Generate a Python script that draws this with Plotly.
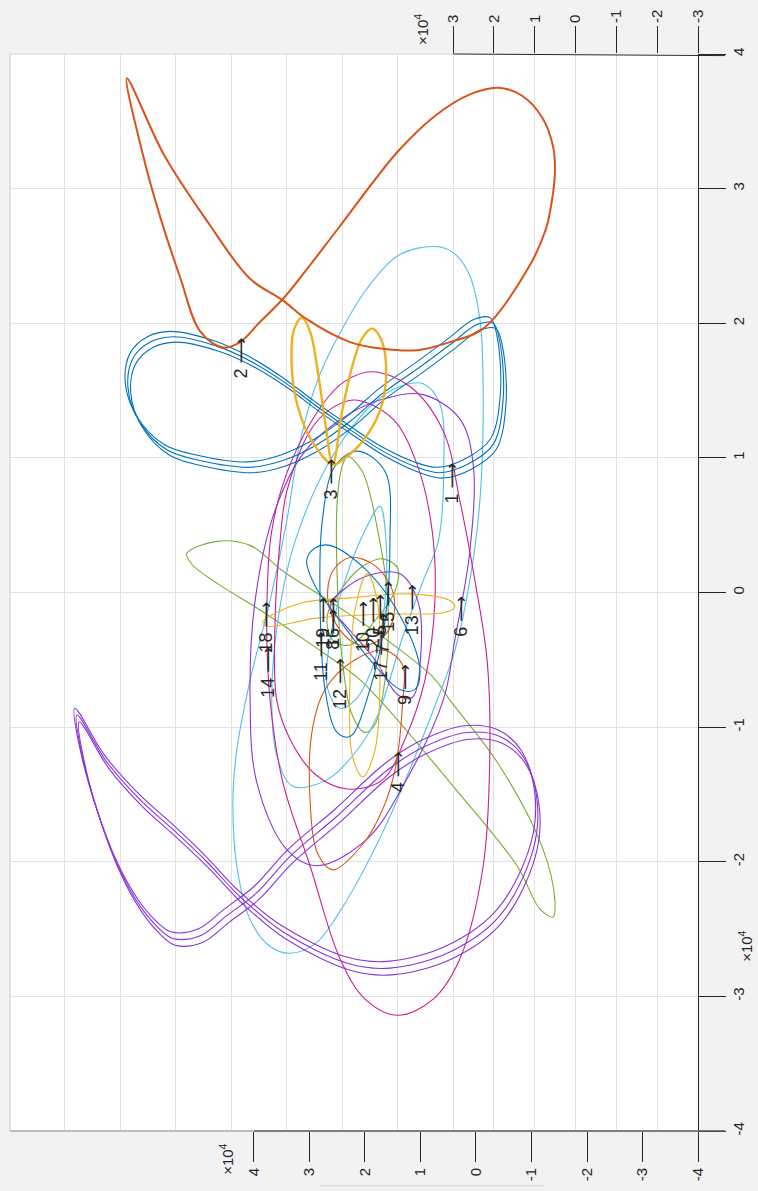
import plotly.graph_objects as go

# ---- orbit paths (units of 1e4); u = horizontal axis, v = vertical axis ----
orange_u = [6.29, 6.00, 5.69, 5.33, 4.97, 4.56, 4.25, 3.89, 3.48, 3.05, 2.49, 1.42, 0.74, 0.11, -0.40,
            -0.83, -1.19, -1.39, -1.42, -1.33, -1.26, -0.97, -0.13, 0.47, 1.06, 1.68, 2.27, 3.05, 3.48,
            4.07, 4.83, 5.62, 6.29]
orange_v = [3.82, 3.25, 2.79, 2.34, 1.94, 1.82, 1.86, 2.01, 2.18, 2.40, 2.70, 3.27, 3.54, 3.70, 3.75,
            3.69, 3.53, 3.31, 3.10, 2.82, 2.70, 2.43, 1.96, 1.86, 1.80, 1.81, 1.86, 2.03, 2.17,
            2.33, 2.75, 3.25, 3.82]

# figure-eight orbit, three successive passes
blue_a_u = [5.46, 4.67, 4.07, 3.48, 2.86, 2.27, 1.68, 1.06, 0.65, 0.16, -0.31, -0.49, -0.43, -0.31, -0.02,
            0.47, 1.06, 1.68, 2.27, 2.86, 3.48, 4.07, 4.97, 5.57, 6.05, 6.27, 6.18, 5.87, 5.46]
blue_a_v = [1.90, 1.83, 1.72, 1.57, 1.38, 1.21, 1.05, 0.93, 0.89, 0.95, 1.10, 1.44, 1.86, 2.00, 1.99,
            1.84, 1.66, 1.48, 1.27, 1.10, 0.98, 0.93, 0.98, 1.06, 1.26, 1.52, 1.74, 1.86, 1.90]
blue_b_u = [5.51, 4.72, 4.12, 3.53, 2.91, 2.32, 1.73, 1.11, 0.70, 0.21, -0.26, -0.44, -0.38, -0.26, 0.03,
            0.52, 1.11, 1.73, 2.32, 2.91, 3.53, 4.12, 5.02, 5.62, 6.10, 6.32, 6.23, 5.92, 5.51]
blue_b_v = [1.94, 1.87, 1.76, 1.61, 1.42, 1.25, 1.09, 0.97, 0.93, 0.99, 1.14, 1.48, 1.90, 2.04, 2.03,
            1.88, 1.70, 1.52, 1.31, 1.14, 1.02, 0.97, 1.02, 1.10, 1.30, 1.56, 1.78, 1.90, 1.94]
blue_c_u = [5.41, 4.62, 4.02, 3.43, 2.81, 2.22, 1.63, 1.01, 0.60, 0.11, -0.36, -0.54, -0.48, -0.36, -0.07,
            0.42, 1.01, 1.63, 2.22, 2.81, 3.43, 4.02, 4.92, 5.52, 6.00, 6.22, 6.13, 5.82, 5.41]
blue_c_v = [1.86, 1.79, 1.68, 1.53, 1.34, 1.17, 1.01, 0.89, 0.85, 0.91, 1.06, 1.40, 1.82, 1.96, 1.95,
            1.80, 1.62, 1.44, 1.23, 1.06, 0.94, 0.89, 0.94, 1.02, 1.22, 1.48, 1.70, 1.82, 1.86]

yellow_u = [2.58, 2.72, 2.85, 2.99, 3.14, 3.28, 3.32, 3.21, 2.95, 2.58, 2.36, 2.05, 1.73, 1.62, 1.69,
            1.87, 2.05, 2.23, 2.41, 2.58]
yellow_v = [0.95, 1.27, 1.64, 1.94, 2.04, 1.95, 1.68, 1.38, 1.12, 0.95, 1.00, 1.12, 1.35, 1.60, 1.86,
            1.96, 1.89, 1.68, 1.35, 0.95]

cyan_outer_u = [0.74, 1.37, 1.96, 2.50, 2.86, 3.17, 3.41, 3.71, 4.07, 4.31, 4.38, 4.31, 4.07, 3.71, 3.35,
                2.90, 2.50, 1.68, 0.70, 0.38, 0.11, -0.07, -0.13, -0.07, 0.14, 0.43, 0.74]
cyan_outer_v = [2.57, 2.51, 2.26, 1.89, 1.57, 1.12, 0.53, -0.06, -0.65, -1.17, -1.54, -2.03, -2.43, -2.63,
                -2.68, -2.61, -2.40, -1.78, -0.80, -0.43, 0.09, 0.68, 1.42, 2.03, 2.38, 2.53, 2.57]

cyan_inner_u = [0.95, 0.65, 0.58, 0.68, 0.95, 1.32, 1.78, 2.14, 2.68, 3.30, 3.59, 3.68, 3.57, 3.26, 2.63,
                1.91, 1.37, 0.95]
cyan_inner_v = [1.55, 1.40, 0.95, 0.38, 0.09, -0.33, -0.92, -1.17, -1.39, -1.44, -1.21, -0.80, -0.21,
                0.38, 0.98, 1.38, 1.53, 1.55]

cyan_small_u = [1.73, 1.62, 1.64, 1.82, 2.18, 2.45, 2.67, 2.63, 2.36, 2.00, 1.73]
cyan_small_v = [0.64, 0.38, -0.06, -0.50, -0.80, -0.86, -0.72, -0.35, 0.09, 0.46, 0.64]

magenta_big_u = [1.87, 1.19, 0.59, 0.29, 0.02, -0.20, -0.25, -0.13, 0.29, 0.77, 1.41, 2.00, 2.45, 2.99,
                 3.48, 3.71, 3.77, 3.68, 3.35, 2.76, 2.36, 1.87]
magenta_big_v = [1.64, 1.53, 1.20, 0.68, 0.09, -0.50, -1.17, -2.03, -2.72, -3.02, -3.14, -3.02, -2.72,
                 -2.03, -1.41, -0.80, -0.21, 0.46, 0.95, 1.40, 1.57, 1.64]

magenta_mid_u = [2.18, 1.50, 1.06, 0.79, 0.74, 0.92, 1.28, 1.68, 2.32, 2.90, 3.35, 3.59, 3.62, 3.53, 3.41,
                 2.99, 2.63, 2.18]
magenta_mid_v = [1.43, 1.29, 0.95, 0.46, -0.06, -0.65, -1.09, -1.39, -1.46, -1.35, -1.09, -0.80, -0.21,
                 0.38, 0.75, 1.20, 1.36, 1.43]

# large purple loop, three successive passes
purple_a_u = [7.19, 6.65, 6.05, 5.46, 4.85, 4.25, 3.48, 2.27, 1.55, 0.47, -0.43, -1.03, -1.10, -0.85,
              -0.43, 0.16, 0.95, 1.60, 2.50, 3.35, 3.95, 4.49, 4.97, 5.46, 5.75, 6.05, 6.36, 6.65, 7.08, 7.19]
purple_a_v = [-0.91, -1.26, -1.54, -1.76, -2.00, -2.26, -2.52, -2.76, -2.79, -2.67, -2.40, -1.91, -1.54,
              -1.22, -1.07, -1.04, -1.15, -1.32, -1.66, -1.96, -2.23, -2.40, -2.55, -2.57, -2.48, -2.33,
              -2.11, -1.83, -1.24, -0.91]
purple_b_u = [7.23, 6.69, 6.09, 5.50, 4.89, 4.29, 3.52, 2.31, 1.59, 0.51, -0.39, -0.99, -1.06, -0.81,
              -0.39, 0.20, 0.99, 1.64, 2.54, 3.39, 3.99, 4.53, 5.01, 5.50, 5.79, 6.09, 6.40, 6.69, 7.12, 7.23]
purple_b_v = [-0.86, -1.21, -1.49, -1.71, -1.95, -2.21, -2.47, -2.71, -2.74, -2.62, -2.35, -1.86, -1.49,
              -1.17, -1.02, -0.99, -1.10, -1.27, -1.61, -1.91, -2.18, -2.35, -2.50, -2.52, -2.43, -2.28,
              -2.06, -1.78, -1.19, -0.86]
purple_c_u = [7.15, 6.61, 6.01, 5.42, 4.81, 4.21, 3.44, 2.23, 1.51, 0.43, -0.47, -1.07, -1.14, -0.89,
              -0.47, 0.12, 0.91, 1.56, 2.46, 3.31, 3.91, 4.45, 4.93, 5.42, 5.71, 6.01, 6.32, 6.61, 7.04, 7.15]
purple_c_v = [-0.96, -1.31, -1.59, -1.81, -2.05, -2.31, -2.57, -2.81, -2.84, -2.72, -2.45, -1.96, -1.59,
              -1.27, -1.12, -1.09, -1.20, -1.37, -1.71, -2.01, -2.28, -2.45, -2.60, -2.62, -2.53, -2.38,
              -2.16, -1.88, -1.29, -0.96]

purple_mid_u = [0.95, 0.29, 0.05, 0.11, 0.38, 0.59, 1.32, 1.96, 2.86, 3.41, 3.95, 4.07, 3.98, 3.62, 3.08,
                2.27, 1.55, 0.95]
purple_mid_v = [1.47, 1.29, 0.95, 0.31, -0.35, -0.80, -1.44, -1.83, -2.03, -1.91, -1.41, -0.80, -0.06,
                0.61, 1.05, 1.33, 1.45, 1.47]

purple_small_u = [1.37, 1.05, 0.99, 1.15, 1.41, 1.82, 2.36, 2.63, 2.36, 1.91, 1.37]
purple_small_v = [0.14, -0.06, -0.43, -0.78, -0.76, -0.50, -0.24, -0.10, 0.03, 0.13, 0.14]

green_long_u = [5.21, 4.67, 4.07, 3.48, 2.58, 1.68, 0.77, 0.47, -0.43, -1.21, -1.42, -1.39, -1.15, -0.74,
                0.47, 1.73, 2.14, 2.99, 3.89, 4.67, 5.12, 5.21]
green_long_v = [0.29, 0.38, 0.35, 0.16, -0.08, -0.33, -0.63, -0.80, -1.29, -1.91, -2.28, -2.41, -2.35,
                -2.03, -1.41, -0.80, -0.63, -0.38, -0.13, 0.07, 0.21, 0.29]

green_tall_u = [2.31, 2.05, 1.77, 1.59, 1.64, 1.82, 2.00, 2.23, 2.41, 2.50, 2.50, 2.41, 2.31]
green_tall_v = [1.01, 0.90, 0.46, -0.06, -0.65, -0.98, -1.04, -0.91, -0.50, 0.09, 0.68, 0.94, 1.01]

green_small_u = [1.68, 1.41, 1.46, 1.82, 2.27, 2.59, 2.68, 2.45, 2.09, 1.68]
green_small_v = [0.25, 0.18, 0.01, -0.21, -0.39, -0.35, -0.17, 0.01, 0.18, 0.25]

orange_small_u = [2.27, 1.82, 1.50, 1.50, 1.73, 2.09, 2.45, 2.67, 2.58, 2.27]
orange_small_v = [0.26, 0.20, 0.01, -0.21, -0.35, -0.39, -0.28, -0.06, 0.16, 0.26]

orange_tall_u = [1.32, 1.46, 1.68, 2.04, 2.58, 2.85, 2.99, 2.95, 2.72, 2.18, 1.64, 1.32, 1.32]
orange_tall_v = [-0.80, -1.32, -1.61, -1.87, -2.06, -1.94, -1.54, -1.02, -0.72, -0.50, -0.43, -0.54, -0.80]

yellow_flat_u = [3.84, 3.17, 2.27, 1.19, 0.47, 0.38, 0.59, 1.68, 2.86, 3.77, 3.84]
yellow_flat_v = [-0.22, -0.08, -0.04, -0.01, -0.06, -0.11, -0.15, -0.16, -0.19, -0.25, -0.22]

yellow_tall_u = [1.96, 1.78, 1.73, 1.82, 2.04, 2.23, 2.27, 2.18, 1.96]
yellow_tall_v = [0.14, -0.06, -0.65, -1.17, -1.37, -1.21, -0.65, -0.13, 0.14]

blue_small_u = [2.63, 1.96, 1.32, 1.01, 1.10, 1.37, 1.91, 2.45, 2.90, 3.05, 2.90, 2.63]
blue_small_v = [0.35, 0.16, -0.21, -0.58, -0.72, -0.72, -0.50, -0.21, 0.05, 0.24, 0.33, 0.35]

blue_tall_u = [2.13, 1.64, 1.55, 1.64, 1.91, 2.27, 2.50, 2.72, 2.81, 2.77, 2.54, 2.13]
blue_tall_v = [1.05, 0.90, 0.38, -0.21, -0.72, -1.07, -1.04, -0.72, -0.06, 0.53, 0.94, 1.05]

# ---- body labels ----
label_text = ["1", "2", "3", "4", "6", "9", "10", "11", "12", "13", "14", "15",
              "16", "17", "18", "19", "20", "5", "8", "7"]
label_u = [0.43, 4.23, 2.61, 1.41, 0.27, 1.28, 2.04, 2.79, 2.45, 1.15, 3.75, 1.59,
           2.58, 1.71, 3.80, 2.76, 1.86, 1.73, 2.58, 1.68]
label_v = [0.81, 1.74, 0.84, -1.33, -0.18, -0.68, -0.25, -0.47, -0.68, -0.13, -0.59, -0.10,
           -0.22, -0.47, -0.26, -0.22, -0.22, -0.16, -0.27, -0.30]

# ---- axis ticks ----
bottom_ticks = [4, 3, 2, 1, 0, -1, -2, -3, -4]
top_ticks = [3, 2, 1, 0, -1, -2, -3]
right_ticks = [4, 3, 2, 1, 0, -1, -2, -3, -4]
floor_grid_u = [7.42, 6.41, 5.41, 4.41, 3.42, 2.41, 1.42]

BLUE = "#0072BD"
ORANGE = "#D95319"
YELLOW = "#EDB120"
PURPLE = "#8A34D8"
GREEN = "#77AC30"
CYAN = "#4DBEEE"
MAGENTA = "#C81E96"
TXT = "#262626"
GRID = "#e2e2e2"
FONT = "Liberation Sans, Arial, Helvetica, sans-serif"
LABEL_FONT = "Liberation Sans, DejaVu Sans, sans-serif"

paths = [
    (green_long_u, green_long_v, GREEN, 1.1),
    (green_tall_u, green_tall_v, GREEN, 1.1),
    (green_small_u, green_small_v, GREEN, 1.1),
    (cyan_outer_u, cyan_outer_v, CYAN, 1.1),
    (cyan_inner_u, cyan_inner_v, CYAN, 1.1),
    (cyan_small_u, cyan_small_v, CYAN, 1.1),
    (magenta_big_u, magenta_big_v, MAGENTA, 1.1),
    (magenta_mid_u, magenta_mid_v, MAGENTA, 1.1),
    (purple_mid_u, purple_mid_v, PURPLE, 1.1),
    (purple_small_u, purple_small_v, PURPLE, 1.1),
    (orange_small_u, orange_small_v, ORANGE, 1.1),
    (orange_tall_u, orange_tall_v, ORANGE, 1.1),
    (yellow_flat_u, yellow_flat_v, YELLOW, 1.1),
    (yellow_tall_u, yellow_tall_v, YELLOW, 1.1),
    (blue_small_u, blue_small_v, BLUE, 1.1),
    (blue_tall_u, blue_tall_v, BLUE, 1.1),
    (purple_a_u, purple_a_v, PURPLE, 1.1),
    (purple_b_u, purple_b_v, PURPLE, 1.1),
    (purple_c_u, purple_c_v, PURPLE, 1.1),
    (blue_a_u, blue_a_v, BLUE, 1.1),
    (blue_b_u, blue_b_v, BLUE, 1.1),
    (blue_c_u, blue_c_v, BLUE, 1.1),
    (yellow_u, yellow_v, YELLOW, 2.4),
    (orange_u, orange_v, ORANGE, 2.0),
]

fig = go.Figure()
for pu, pv, col, w in paths:
    fig.add_trace(go.Scatter(x=pu, y=pv, mode="lines", showlegend=False, hoverinfo="skip",
                             line=dict(color=col, width=w, shape="spline", smoothing=1.0)))

# empty traces so the grid axis and the top axis get drawn
fig.add_trace(go.Scatter(x=[None], y=[None], xaxis="x2", yaxis="y", mode="lines",
                         showlegend=False, hoverinfo="skip"))
fig.add_trace(go.Scatter(x=[None], y=[None], xaxis="x3", yaxis="y", mode="lines",
                         showlegend=False, hoverinfo="skip"))

# plot box in pixels
L, R, T, B = 10, 60, 51, 58
W, H = 758, 1191
pw, ph = W - L - R, H - T - B


def px(xp):
    return (xp - L) / pw


def py(yp):
    return (H - B - yp) / ph


annotations = []
for t, u, v in zip(label_text, label_u, label_v):
    annotations.append(dict(x=u, y=v, xref="x", yref="y", text=t + " ⟶", showarrow=False,
                            textangle=-90, xanchor="center", yanchor="middle",
                            font=dict(size=18, color=TXT, family=LABEL_FONT)))

for xp, yp in [(421, 26), (227, 1162), (746, 947)]:
    annotations.append(dict(x=px(xp), y=py(yp), xref="paper", yref="paper",
                            text="×10<sup>4</sup>", showarrow=False, textangle=-90,
                            xanchor="center", yanchor="middle",
                            font=dict(size=15, color=TXT, family=FONT)))

shapes = [
    # light box edges
    dict(type="line", xref="paper", yref="paper", x0=0, x1=0, y0=0, y1=1,
         line=dict(color="#d4d4d4", width=1.2)),
    dict(type="line", xref="paper", yref="paper", x0=0, x1=px(453), y0=1, y1=1,
         line=dict(color="#d4d4d4", width=1.2)),
    dict(type="line", xref="paper", yref="paper", x0=0, x1=px(254), y0=0, y1=0,
         line=dict(color="#bdbdbd", width=2)),
    # axis lines
    dict(type="line", xref="paper", yref="paper", x0=px(453), x1=px(725), y0=1.0, y1=0.9985,
         line=dict(color=TXT, width=1)),
    dict(type="line", xref="paper", yref="paper", x0=px(254), x1=px(725), y0=0, y1=0,
         line=dict(color="#555555", width=1.6)),
    dict(type="line", xref="paper", yref="paper", x0=px(320), x1=px(545), y0=py(1188), y1=py(1188),
         line=dict(color="#d6d6d6", width=1)),
]

fig.update_layout(
    width=W, height=H, margin=dict(l=L, r=R, t=T, b=B, pad=0),
    paper_bgcolor="#f2f2f2", plot_bgcolor="#ffffff",
    font=dict(family=FONT, color=TXT, size=14),
    showlegend=False,
    xaxis=dict(range=[8.396, -4.0], tickvals=bottom_ticks, ticktext=[str(t) for t in bottom_ticks],
               ticks="outside", ticklen=30, tickcolor=TXT, tickangle=-90, showgrid=False,
               zeroline=False, showline=False, tickfont=dict(size=15, color=TXT)),
    xaxis2=dict(range=[8.396, -4.0], overlaying="x", anchor="y", tickvals=floor_grid_u,
                showticklabels=False, ticks="", showgrid=True, gridcolor=GRID, zeroline=False,
                showline=False),
    xaxis3=dict(range=[13.85, -3.0], overlaying="x", anchor="y", side="top", tickvals=top_ticks,
                ticktext=[str(t) for t in top_ticks], ticks="outside", ticklen=27, tickcolor=TXT,
                tickangle=-90, showgrid=True, gridcolor=GRID, zeroline=False, showline=False,
                tickfont=dict(size=15, color=TXT)),
    yaxis=dict(range=[-4.0, 4.0], side="right", tickvals=right_ticks,
               ticktext=[str(t) for t in right_ticks], ticks="outside", ticklen=27, tickcolor=TXT,
               tickangle=-90, showgrid=True, gridcolor=GRID, zeroline=False, showline=True,
               linecolor=TXT, linewidth=1, tickfont=dict(size=15, color=TXT)),
    annotations=annotations,
    shapes=shapes,
)

fig.write_html("out.html")
